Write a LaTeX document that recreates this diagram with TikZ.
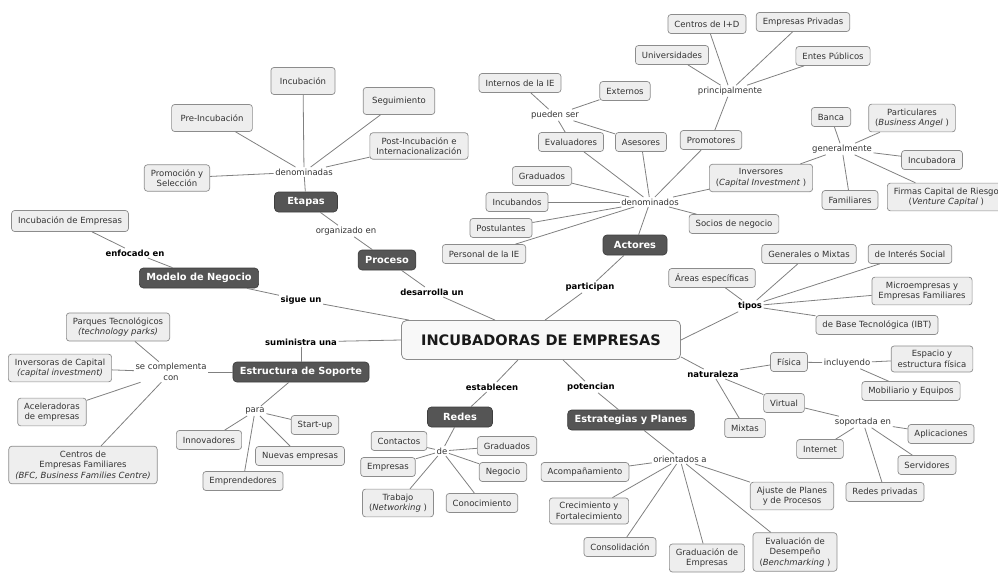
\documentclass[tikz,border=0pt]{standalone}
\usepackage{fontspec}
\setmainfont{DejaVu Sans}
\usepackage{tikz}
\definecolor{linegray}{HTML}{808080}
\definecolor{boxborder}{HTML}{8C8C8C}
\definecolor{boxfill}{HTML}{EEEEEE}
\definecolor{conceptfill}{HTML}{555555}
\definecolor{conceptdraw}{HTML}{3E3E3E}
\definecolor{textdark}{HTML}{333333}
\newcommand{\leaffont}{\fontsize{8.5}{10.5}\selectfont}
\newcommand{\conceptfont}{\fontsize{9.8}{12}\selectfont\bfseries}
\newcommand{\titlefont}{\fontsize{14.5}{17}\selectfont\bfseries}
\tikzset{
  conn/.style={draw=linegray, line width=0.8pt},
  leaf/.style={draw=boxborder, fill=boxfill, rounded corners=3pt, line width=0.7pt,
    font=\leaffont, text=textdark, inner xsep=6.5pt, inner ysep=4.5pt,
    minimum height=19pt, align=center},
  bigleaf/.style={leaf, inner xsep=9pt, minimum height=27pt},
  concept/.style={draw=conceptdraw, fill=conceptfill, rounded corners=4pt, line width=0.7pt,
    font=\conceptfont, text=white, inner xsep=7pt, minimum height=20pt},
  linkword/.style={font=\leaffont, text=textdark, inner sep=1.5pt, align=center},
  linkbold/.style={linkword, font=\leaffont\bfseries, text=black},
  mainbox/.style={draw=boxborder, fill=white!60!boxfill, rounded corners=5pt, line width=0.8pt,
    font=\titlefont, text=black!90, minimum width=279pt, minimum height=39pt}
}
\newcommand{\mcleaf}[4][]{\node[leaf,#1] (#2) at (#3) {#4};}
\newcommand{\mcconcept}[4][]{\node[concept,#1] (#2) at (#3) {#4};}
\newcommand{\mcword}[4][]{\node[linkword,#1] (#2) at (#3) {#4};}
\newcommand{\mclink}[2]{\draw[conn] (#1) -- (#2);}

\begin{document}
\begin{tikzpicture}[x=1pt,y=-1pt]
\useasboundingbox (0,0) rectangle (998,575);

% centre and concepts
\node[mainbox] (main) at (541,340) {INCUBADORAS DE EMPRESAS};
\mcconcept[minimum width=63pt] {etapas} {306,202} {Etapas}
\mcconcept {proceso} {387,260} {Proceso}
\mcconcept[minimum width=64pt] {actores} {635,245} {Actores}
\mcconcept {modelo} {199,278} {Modelo de Negocio}
\mcconcept {estruct} {301,372} {Estructura de Soporte}
\mcconcept[minimum width=65pt] {redes} {460,417} {Redes}
\mcconcept {estrateg} {631,420} {Estrategias y Planes}

% linking words
\mcword[linkbold] {wdesarr} {432,292} {desarrolla un}
\mcword {worgan} {346,231} {organizado en}
\mcword {wdenA} {304,172} {denominadas}
\mcword[linkbold] {wsigue} {301,300} {sigue un}
\mcword[linkbold] {wenfoc} {135,253} {enfocado en}
\mcword[linkbold] {wpartic} {590,287} {participan}
\mcword {wdenB} {650,202} {denominados}
\mcword {wpueden} {555,115} {pueden ser}
\mcword {wprinc} {730,91} {principalmente}
\mcword {wgeneral} {842,149} {generalmente}
\mcword[linkbold] {wsumin} {301,342} {suministra una}
\mcword {wcompl} {171,372} {se complementa\\con}
\mcword {wpara} {255,411} {para}
\mcword[linkbold] {westab} {492,387} {establecen}
\mcword {wde} {442,451} {de}
\mcword[linkbold] {wpoten} {591,387} {potencian}
\mcword {worient} {680,459} {orientados a}
\mcword[linkbold] {wtipos} {750,306} {tipos}
\mcword[linkbold] {wnatur} {713,374} {naturaleza}
\mcword {wincl} {847,363} {incluyendo}
\mcword {wsoport} {863,422} {soportada en}

% etapas
\mcleaf[bigleaf] {incub} {303,81} {Incubación}
\mcleaf[bigleaf] {preinc} {212,118} {Pre-Incubación}
\mcleaf[bigleaf] {segui} {399,101} {Seguimiento}
\mcleaf {postinc} {419,146} {Post-Incubación e\\Internacionalización}
\mcleaf {promo} {177,178} {Promoción y\\Selección}
\mcleaf[minimum height=21pt] {incemp} {70,221} {Incubación de Empresas}

% actores
\mcleaf {internos} {520,83} {Internos de la IE}
\mcleaf {externos} {625,91} {Externos}
\mcleaf {evaluad} {571,142} {Evaluadores}
\mcleaf {asesor} {641,142} {Asesores}
\mcleaf {promot} {711,140} {Promotores}
\mcleaf {gradA} {542,176} {Graduados}
\mcleaf {incubandos} {517,202} {Incubandos}
\mcleaf {postul} {501,228} {Postulantes}
\mcleaf {personal} {484,254} {Personal de la IE}
\mcleaf {inversor} {761,178} {Inversores\\(\textit{Capital Investment} )}
\mcleaf {socios} {734,224} {Socios de negocio}
\mcleaf {centrosid} {707,24} {Centros de I+D}
\mcleaf {empriv} {803,22} {Empresas Privadas}
\mcleaf {univ} {672,55} {Universidades}
\mcleaf {entes} {833,56} {Entes Públicos}
\mcleaf {banca} {831,117} {Banca}
\mcleaf {partic} {912,118} {Particulares\\(\textit{Business Angel} )}
\mcleaf {incubadora} {932,160} {Incubadora}
\mcleaf {familiares} {850,200} {Familiares}
\mcleaf[anchor=west] {firmas} {887,197} {Firmas Capital de Riesgo\\(\textit{Venture Capital} )}

% tipos y naturaleza
\mcleaf {areas} {712,278} {Áreas específicas}
\mcleaf {generales} {809,254} {Generales o Mixtas}
\mcleaf {interes} {910,254} {de Interés Social}
\mcleaf {micro} {922,291} {Microempresas y\\Empresas Familiares}
\mcleaf {base} {877,325} {de Base Tecnológica (IBT)}
\mcleaf {fisica} {789,362} {Física}
\mcleaf {espacio} {932,359} {Espacio y\\estructura física}
\mcleaf {mobil} {911,391} {Mobiliario y Equipos}
\mcleaf {virtual} {784,403} {Virtual}
\mcleaf {mixtas} {745,428} {Mixtas}
\mcleaf {internet} {820,449} {Internet}
\mcleaf {aplic} {941,434} {Aplicaciones}
\mcleaf {servid} {927,465} {Servidores}
\mcleaf {redespriv} {885,492} {Redes privadas}

% estructura de soporte
\mcleaf {parques} {118,327} {Parques Tecnológicos\\\textit{(technology parks)}}
\mcleaf {inversoras} {60,368} {Inversoras de Capital\\\textit{(capital investment)}}
\mcleaf {aceler} {52,412} {Aceleradoras\\de empresas}
\mcleaf {centrosef} {83,465} {Centros de\\Empresas Familiares\\\textit{(BFC, Business Families Centre)}}
\mcleaf {innov} {209,440} {Innovadores}
\mcleaf {startup} {315,425} {Start-up}
\mcleaf {nuevas} {300,456} {Nuevas empresas}
\mcleaf {emprend} {243,481} {Emprendedores}

% redes
\mcleaf {contactos} {399,441} {Contactos}
\mcleaf {gradB} {507,446} {Graduados}
\mcleaf {empresasB} {388,467} {Empresas}
\mcleaf {negocio} {503,472} {Negocio}
\mcleaf {trabajo} {398,503} {Trabajo\\(\textit{Networking} )}
\mcleaf {conocim} {482,503} {Conocimiento}

% estrategias
\mcleaf {acomp} {585,472} {Acompañamiento}
\mcleaf {crecim} {589,511} {Crecimiento y\\Fortalecimiento}
\mcleaf {consol} {620,547} {Consolidación}
\mcleaf {graduac} {707,558} {Graduación de\\Empresas}
\mcleaf {ajuste} {792,496} {Ajuste de Planes\\y de Procesos}
\mcleaf {evalua} {795,552} {Evaluación de\\Desempeño\\(\textit{Benchmarking} )}

% links from the centre
\mclink{[xshift=-46pt]main.north}{wdesarr}
\mclink{[xshift=8pt]main.north west}{wsigue}
\mclink{[xshift=4pt]main.north}{wpartic}
\mclink{main.west}{wsumin}
\mclink{[xshift=-23pt]main.south}{westab}
\mclink{[xshift=22pt]main.south}{wpoten}
\mclink{main.east}{wtipos}
\mclink{[yshift=3pt]main.south east}{wnatur}

\mclink{wdesarr}{proceso}
\mclink{proceso}{worgan}
\mclink{worgan}{etapas}
\mclink{etapas}{wdenA}
\foreach \n in {incub,preinc,segui,postinc,promo} \mclink{wdenA}{\n};
\mclink{wsigue}{modelo}
\mclink{modelo}{wenfoc}
\mclink{wenfoc}{incemp}

\mclink{wpartic}{actores}
\mclink{actores}{wdenB}
\foreach \n in {evaluad,asesor,promot,gradA,incubandos,postul,personal,inversor,socios} \mclink{wdenB}{\n};
\foreach \n in {evaluad,asesor,internos,externos} \mclink{wpueden}{\n};
\foreach \n in {promot,univ,centrosid,empriv,entes} \mclink{wprinc}{\n};
\foreach \n in {inversor,banca,partic,incubadora,familiares,firmas} \mclink{wgeneral}{\n};

\mclink{wsumin}{estruct}
\mclink{estruct}{wcompl}
\foreach \n in {parques,inversoras,aceler,centrosef} \mclink{wcompl}{\n};
\mclink{estruct}{wpara}
\foreach \n in {innov,startup,nuevas,emprend} \mclink{wpara}{\n};

\mclink{westab}{redes}
\mclink{redes}{wde}
\foreach \n in {contactos,gradB,empresasB,negocio,trabajo,conocim} \mclink{wde}{\n};

\mclink{wpoten}{estrateg}
\mclink{estrateg}{worient}
\foreach \n in {acomp,crecim,consol,graduac,ajuste,evalua} \mclink{worient}{\n};

\foreach \n in {areas,generales,interes,micro,base} \mclink{wtipos}{\n};
\foreach \n in {fisica,virtual,mixtas} \mclink{wnatur}{\n};
\mclink{fisica}{wincl}
\foreach \n in {espacio,mobil} \mclink{wincl}{\n};
\mclink{virtual}{wsoport}
\foreach \n in {internet,aplic,servid,redespriv} \mclink{wsoport}{\n};
\end{tikzpicture}
\end{document}
